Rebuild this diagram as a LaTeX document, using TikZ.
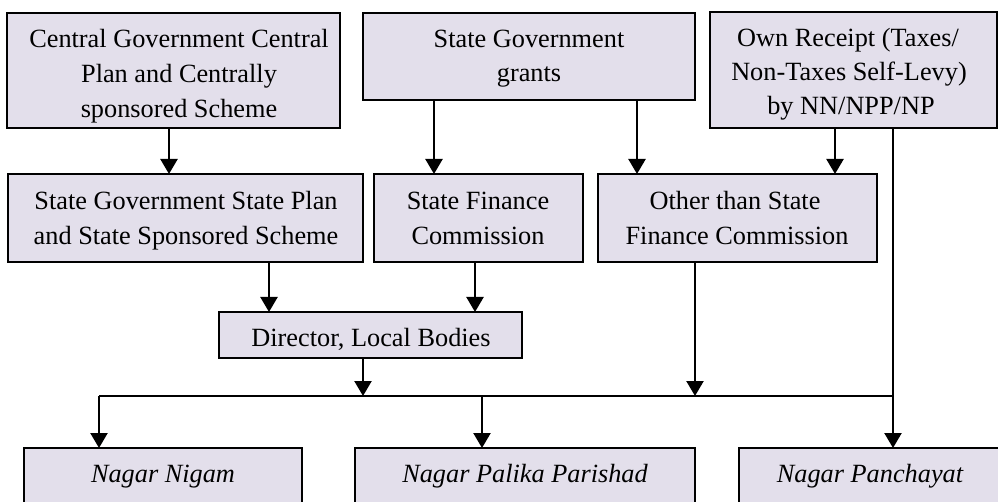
\documentclass[tikz,border=0pt]{standalone}
\usepackage{fontspec}
\setmainfont{Liberation Serif}
\usetikzlibrary{arrows.meta}
\definecolor{boxfill}{RGB}{227,223,235}
\begin{document}
\begin{tikzpicture}[x=1pt,y=-1pt,
  box/.style={draw=black, line width=1.6pt, fill=boxfill, rectangle, inner sep=0pt, outer sep=0pt},
  txt/.style={font=\fontsize{26.3}{35}\selectfont, align=center, inner sep=0pt, anchor=base},
  itxt/.style={txt, font=\fontsize{26.3}{35}\selectfont\itshape},
  arr/.style={line width=2.3pt, -{Triangle[width=17pt,length=15pt]}},
  bus/.style={line width=1.4pt}]
\useasboundingbox (0,0) rectangle (998,502);
% boxes
\node[box, minimum width=333pt, minimum height=115pt] (b1) at (173.5,70.5) {};
\node[box, minimum width=332pt, minimum height=87pt] (b2) at (529,56.5) {};
\node[box, minimum width=287pt, minimum height=116pt] (b3) at (853.5,70) {};
\node[box, minimum width=355pt, minimum height=88pt] (b4) at (185.5,218) {};
\node[box, minimum width=209pt, minimum height=88pt] (b5) at (478.5,218) {};
\node[box, minimum width=279pt, minimum height=88pt] (b6) at (737.5,218) {};
\node[box, minimum width=303pt, minimum height=46pt] (dir) at (370.5,335) {};
\node[box, minimum width=278pt, minimum height=82pt] (nn) at (163,489) {};
\node[box, minimum width=340pt, minimum height=82pt] (npp) at (525,489) {};
\node[box, minimum width=264pt, minimum height=82pt] (npn) at (871,489) {};
% texts (clipped to the text frame of their boxes)
\begin{scope}\clip (b1.north west) rectangle ([yshift=-5pt]b1.south east);
\node[txt] (t1a) at (179,48) {Central Government Central};
\node[txt] (t1b) at (179,83) {Plan and Centrally};
\node[txt] (t1c) at (179,118) {sponsored Scheme};
\end{scope}
\begin{scope}\clip (b2.north west) rectangle ([yshift=-5pt]b2.south east);
\node[txt] (t2a) at (529,48) {State Government};
\node[txt] (t2b) at (529,82) {grants};
\end{scope}
\begin{scope}\clip (b3.north west) rectangle ([yshift=-5pt]b3.south east);
\node[txt] (t3a) at (848,47) {Own Receipt (Taxes/};
\node[txt] (t3b) at (849,81) {Non-Taxes Self-Levy)};
\node[txt] (t3c) at (851,115) {by NN/NPP/NP};
\end{scope}
\begin{scope}\clip (b4.north west) rectangle ([yshift=-5pt]b4.south east);
\node[txt] (t4a) at (186,210) {State Government State Plan};
\node[txt] (t4b) at (186,245) {and State Sponsored Scheme};
\end{scope}
\begin{scope}\clip (b5.north west) rectangle ([yshift=-5pt]b5.south east);
\node[txt] (t5a) at (478,210) {State Finance};
\node[txt] (t5b) at (478,245) {Commission};
\end{scope}
\begin{scope}\clip (b6.north west) rectangle ([yshift=-5pt]b6.south east);
\node[txt] (t6a) at (735,210) {Other than State};
\node[txt] (t6b) at (737,245) {Finance Commission};
\end{scope}
\begin{scope}\clip (dir.north west) rectangle ([yshift=-4pt]dir.south east);
\node[txt] (td) at (371,347) {Director, Local Bodies};
\end{scope}
\node[itxt] (tnn) at (163,482) {Nagar Nigam};
\node[itxt] (tnpp) at (525,482) {Nagar Palika Parishad};
\node[itxt] (tnpn) at (870,482) {Nagar Panchayat};
% bus
\coordinate (busL) at (99,396);
\coordinate (busR) at (893,396);
\draw[bus] (busL) -- (busR);
% connectors
\draw[arr] (b1.south -| 169,0) -- (b4.north -| 169,0);
\draw[arr] (b2.south -| 434,0) -- (b5.north -| 434,0);
\draw[arr] (b2.south -| 637,0) -- (b6.north -| 637,0);
\draw[arr] (b3.south -| 835,0) -- (b6.north -| 835,0);
\draw[arr] (b4.south -| 269,0) -- (dir.north -| 269,0);
\draw[arr] (b5.south -| 475,0) -- (dir.north -| 475,0);
\draw[arr] (dir.south -| 363,0) -- (busL -| 363,0);
\draw[arr] (b6.south -| 695,0) -- (busL -| 695,0);
\draw[arr] (b3.south -| busR) -- (npn.north -| busR);
\draw[arr] (busL) -- (nn.north -| busL);
\draw[arr] (busL -| 482,0) -- (npp.north -| 482,0);
\end{tikzpicture}
\end{document}
